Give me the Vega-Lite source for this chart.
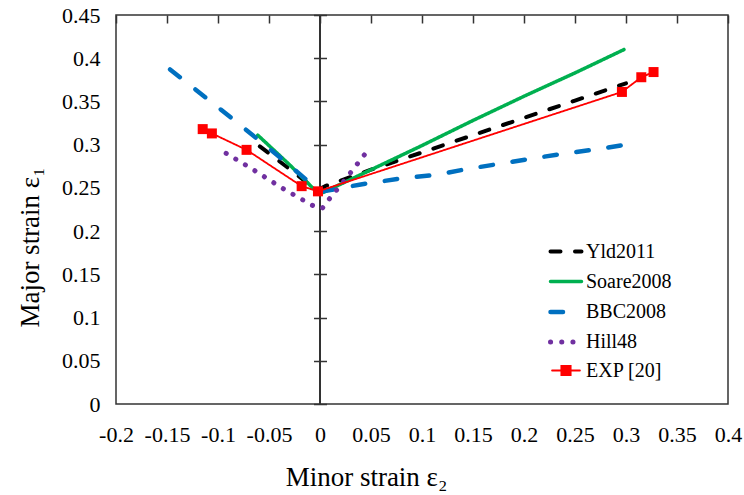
{
  "$schema": "https://vega.github.io/schema/vega-lite/v6.json",
  "width": 612,
  "height": 389,
  "autosize": "none",
  "padding": {"left": 116, "top": 15, "right": 16, "bottom": 91},
  "background": "white",
  "config": {
    "view": {"stroke": "#333333", "strokeWidth": 1.5},
    "font": "Liberation Serif, Times New Roman, serif",
    "style": {
      "guide-label": {"font": "Liberation Serif, Times New Roman, serif", "fill": "#000000"},
      "guide-title": {"font": "Liberation Serif, Times New Roman, serif", "fill": "#000000"}
    },
    "axis": {
      "labelFont": "Liberation Serif, Times New Roman, serif",
      "titleFont": "Liberation Serif, Times New Roman, serif",
      "labelColor": "#000000",
      "titleColor": "#000000",
      "titleFontWeight": "normal",
      "labelOverlap": false,
      "labelFlush": false,
      "labelBound": false
    },
    "legend": {
      "labelFont": "Liberation Serif, Times New Roman, serif",
      "labelColor": "#000000"
    }
  },
  "datasets": {
    "curves": [
      {"model": "Yld2011", "e2": -0.059, "e1": 0.298},
      {"model": "Yld2011", "e2": -0.03, "e1": 0.272},
      {"model": "Yld2011", "e2": -0.003, "e1": 0.247},
      {"model": "Yld2011", "e2": 0.005, "e1": 0.252},
      {"model": "Yld2011", "e2": 0.05, "e1": 0.271},
      {"model": "Yld2011", "e2": 0.1, "e1": 0.291},
      {"model": "Yld2011", "e2": 0.15, "e1": 0.311},
      {"model": "Yld2011", "e2": 0.2, "e1": 0.331},
      {"model": "Yld2011", "e2": 0.25, "e1": 0.351},
      {"model": "Yld2011", "e2": 0.3, "e1": 0.371},

      {"model": "Soare2008", "e2": -0.061, "e1": 0.311},
      {"model": "Soare2008", "e2": -0.03, "e1": 0.277},
      {"model": "Soare2008", "e2": -0.008, "e1": 0.251},
      {"model": "Soare2008", "e2": 0.0, "e1": 0.243},
      {"model": "Soare2008", "e2": 0.05, "e1": 0.271},
      {"model": "Soare2008", "e2": 0.1, "e1": 0.299},
      {"model": "Soare2008", "e2": 0.15, "e1": 0.328},
      {"model": "Soare2008", "e2": 0.2, "e1": 0.356},
      {"model": "Soare2008", "e2": 0.25, "e1": 0.383},
      {"model": "Soare2008", "e2": 0.298, "e1": 0.41},

      {"model": "BBC2008", "e2": -0.147, "e1": 0.387},
      {"model": "BBC2008", "e2": -0.088, "e1": 0.332},
      {"model": "BBC2008", "e2": -0.04, "e1": 0.286},
      {"model": "BBC2008", "e2": -0.005, "e1": 0.251},
      {"model": "BBC2008", "e2": 0.003, "e1": 0.246},
      {"model": "BBC2008", "e2": 0.04, "e1": 0.254},
      {"model": "BBC2008", "e2": 0.08, "e1": 0.261},
      {"model": "BBC2008", "e2": 0.113, "e1": 0.265},
      {"model": "BBC2008", "e2": 0.145, "e1": 0.272},
      {"model": "BBC2008", "e2": 0.177, "e1": 0.278},
      {"model": "BBC2008", "e2": 0.208, "e1": 0.284},
      {"model": "BBC2008", "e2": 0.241, "e1": 0.29},
      {"model": "BBC2008", "e2": 0.273, "e1": 0.295},
      {"model": "BBC2008", "e2": 0.3, "e1": 0.3},

      {"model": "Hill48", "e2": -0.092, "e1": 0.29},
      {"model": "Hill48", "e2": -0.064, "e1": 0.27},
      {"model": "Hill48", "e2": -0.036, "e1": 0.249},
      {"model": "Hill48", "e2": -0.008, "e1": 0.23},
      {"model": "Hill48", "e2": 0.002, "e1": 0.226},
      {"model": "Hill48", "e2": 0.009, "e1": 0.237},
      {"model": "Hill48", "e2": 0.023, "e1": 0.257},
      {"model": "Hill48", "e2": 0.044, "e1": 0.289},

      {"model": "EXP [20]", "e2": -0.115, "e1": 0.318},
      {"model": "EXP [20]", "e2": -0.106, "e1": 0.313},
      {"model": "EXP [20]", "e2": -0.072, "e1": 0.294},
      {"model": "EXP [20]", "e2": -0.018, "e1": 0.252},
      {"model": "EXP [20]", "e2": -0.002, "e1": 0.246},
      {"model": "EXP [20]", "e2": 0.296, "e1": 0.361},
      {"model": "EXP [20]", "e2": 0.315, "e1": 0.378},
      {"model": "EXP [20]", "e2": 0.327, "e1": 0.384}
    ]
  },
  "data": {"name": "curves"},
  "layer": [
    {
      "description": "vertical axis line through zero minor strain",
      "mark": {"type": "rule", "color": "#333333", "strokeWidth": 1.5},
      "encoding": {
        "x": {"datum": 0, "type": "quantitative"}
      }
    },
    {
      "mark": {"type": "line", "strokeCap": "round", "strokeJoin": "round"},
      "encoding": {
        "x": {
          "field": "e2",
          "type": "quantitative",
          "scale": {"domain": [-0.2, 0.4], "nice": false, "zero": false},
          "axis": {
            "orient": "bottom",
            "values": [-0.2, -0.15, -0.1, -0.05, 0, 0.05, 0.1, 0.15, 0.2, 0.25, 0.3, 0.35, 0.4],
            "labelExpr": "'' + datum.value",
            "labelFont": "Liberation Serif, Times New Roman, serif",
            "domain": false,
            "ticks": false,
            "grid": true,
            "gridColor": "#333333",
            "gridWidth": 1.5,
            "gridDash": [8, 2000],
            "labelPadding": 20,
            "labelFontSize": 22,
            "title": "Minor strain ε₂",
            "titleFontSize": 27,
            "titleX": 250,
            "titleY": 81,
            "titleBaseline": "alphabetic",
            "titleAlign": "center"
          }
        },
        "y": {
          "field": "e1",
          "type": "quantitative",
          "scale": {"domain": [0, 0.45], "nice": false, "zero": true},
          "axis": {
            "orient": "left",
            "values": [0, 0.05, 0.1, 0.15, 0.2, 0.25, 0.3, 0.35, 0.4, 0.45],
            "labelExpr": "'' + datum.value",
            "labelFont": "Liberation Serif, Times New Roman, serif",
            "ticks": false,
            "domain": false,
            "grid": true,
            "gridColor": "#333333",
            "gridWidth": 1.5,
            "gridDash": [0, 197.5, 13, 2000],
            "labelPadding": 16,
            "labelFontSize": 22,
            "title": "Major strain ε₁",
            "titleFontSize": 27,
            "titleAngle": -90,
            "titleX": -86,
            "titleY": 232,
            "titleBaseline": "middle",
            "titleAlign": "center"
          }
        },
        "color": {
          "field": "model",
          "type": "nominal",
          "sort": null,
          "scale": {
            "domain": ["Yld2011", "Soare2008", "BBC2008", "Hill48", "EXP [20]"],
            "range": ["#000000", "#00B050", "#0070C0", "#7030A0", "#FF0000"]
          },
          "legend": {
            "title": null,
            "orient": "none",
            "legendX": 432,
            "legendY": 219,
            "padding": 0,
            "symbolType": "stroke",
            "symbolSize": 961,
            "symbolStrokeWidth": 4,
            "labelFont": "Liberation Serif, Times New Roman, serif",
            "labelFontSize": 20,
            "labelOffset": 2,
            "rowPadding": 2,
            "encode": {
              "labels": {
                "update": {
                  "font": {"value": "Liberation Serif, Times New Roman, serif"}
                }
              },
              "symbols": {
                "update": {
                  "strokeDash": {"signal": "datum.value === 'Yld2011' ? [10, 14.5] : datum.value === 'BBC2008' ? [12.5, 19.8] : datum.value === 'Hill48' ? [0.1, 11] : [1, 0]"},
                  "strokeWidth": {"signal": "datum.value === 'EXP [20]' ? 1.8 : datum.value === 'Soare2008' ? 3.5 : datum.value === 'Yld2011' ? 4 : datum.value === 'Hill48' ? 5 : 4.5"},
                  "strokeCap": {"value": "round"},
                  "shape": {"signal": "datum.value === 'EXP [20]' ? 'M-0.9,0H0.9M-0.3,-0.3H0.3V0.3H-0.3Z' : 'stroke'"},
                  "fill": {"signal": "datum.value === 'EXP [20]' ? '#FF0000' : 'transparent'"},
                  "opacity": {"value": 1}
                }
              }
            }
          }
        },
        "strokeDash": {
          "field": "model",
          "type": "nominal",
          "scale": {
            "domain": ["Yld2011", "Soare2008", "BBC2008", "Hill48", "EXP [20]"],
            "range": [[10, 14.5], [1, 0], [12.5, 19.8], [0.1, 11.1], [1, 0]]
          },
          "legend": null
        },
        "strokeWidth": {
          "field": "model",
          "type": "nominal",
          "scale": {
            "type": "ordinal",
            "domain": ["Yld2011", "Soare2008", "BBC2008", "Hill48", "EXP [20]"],
            "range": [4, 3.5, 4.5, 5, 1.8]
          },
          "legend": null
        }
      }
    },
    {
      "transform": [{"filter": "datum.model === 'EXP [20]'"}],
      "mark": {"type": "square", "filled": true, "color": "#FF0000", "size": 100, "opacity": 1},
      "encoding": {
        "x": {"field": "e2", "type": "quantitative"},
        "y": {"field": "e1", "type": "quantitative"}
      }
    }
  ]
}
